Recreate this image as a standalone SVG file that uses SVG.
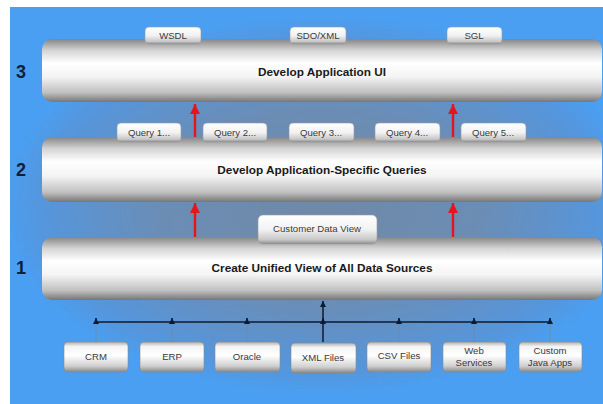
<svg xmlns="http://www.w3.org/2000/svg" width="603" height="404" viewBox="0 0 603 404">
<defs>
<clipPath id="bgClip"><rect x="10" y="7" width="593" height="397"/></clipPath>
<radialGradient id="bgGlow" cx="322" cy="205" r="1" gradientUnits="userSpaceOnUse" gradientTransform="translate(322 205) scale(320 190) translate(-322 -205)">
<stop offset="0" stop-color="#7089a6"/>
<stop offset="0.5" stop-color="#6b8db5"/>
<stop offset="0.88" stop-color="#5596dd"/>
<stop offset="1" stop-color="#4a9ff2"/>
</radialGradient>
<linearGradient id="barGrad" x1="0" y1="0" x2="0" y2="1">
<stop offset="0" stop-color="#858585"/>
<stop offset="0.18" stop-color="#d4d4d4"/>
<stop offset="0.38" stop-color="#ffffff"/>
<stop offset="0.6" stop-color="#f4f4f4"/>
<stop offset="0.85" stop-color="#c0c0c0"/>
<stop offset="1" stop-color="#767676"/>
</linearGradient>
<linearGradient id="tabGrad" x1="0" y1="0" x2="0" y2="1">
<stop offset="0" stop-color="#ffffff"/>
<stop offset="0.5" stop-color="#f2f2f2"/>
<stop offset="0.85" stop-color="#c8c8c8"/>
<stop offset="1" stop-color="#8c8c8c"/>
</linearGradient>
<linearGradient id="boxGrad" x1="0" y1="0" x2="0" y2="1">
<stop offset="0" stop-color="#b0b0b0"/>
<stop offset="0.15" stop-color="#f4f4f4"/>
<stop offset="0.45" stop-color="#ffffff"/>
<stop offset="0.8" stop-color="#d0d0d0"/>
<stop offset="1" stop-color="#888888"/>
</linearGradient>
<marker id="redHead" viewBox="0 0 10 10" refX="10" refY="5" markerWidth="10" markerHeight="10" markerUnits="userSpaceOnUse" orient="auto">
<path d="M0,0 L10,5 L0,10 z" fill="#e8141c"/>
</marker>
<marker id="blkHead" viewBox="0 0 10 10" refX="10" refY="5" markerWidth="6" markerHeight="6" markerUnits="userSpaceOnUse" orient="auto">
<path d="M0,0 L10,5 L0,10 z" fill="#0e1a2e"/>
</marker>
</defs>
<style>
.bar{fill:url(#barGrad);}
.tab{fill:url(#tabGrad);stroke:#9a9a9a;stroke-width:0.6;}
.box{fill:url(#boxGrad);stroke:#8a8a8a;stroke-width:0.6;}
.barTxt{font-family:"Liberation Sans",Arial,sans-serif;font-size:11.8px;font-weight:bold;fill:#1a1a1a;text-anchor:middle;}
.tabTxt{font-family:"Liberation Sans",Arial,sans-serif;font-size:9.6px;fill:#3a3a3a;text-anchor:middle;}
.num{font-family:"Liberation Sans",Arial,sans-serif;font-size:18px;font-weight:bold;fill:#0f1f38;text-anchor:middle;}
.red{stroke:#e8141c;stroke-width:2.4;fill:none;}
.thin{stroke:#6f8aa6;stroke-width:0.8;fill:none;}
.dark{stroke:#0e1a2e;stroke-width:1.5;fill:none;}
</style>
<rect x="0" y="0" width="603" height="404" fill="#ffffff"/>
<rect x="10" y="7" width="593" height="397" fill="#4a9ff2"/>
<ellipse cx="322" cy="205" rx="320" ry="190" fill="url(#bgGlow)" clip-path="url(#bgClip)"/>

<g id="connectors">
<line class="red" x1="195" y1="140" x2="195" y2="104" marker-end="url(#redHead)"/>
<line class="red" x1="453" y1="140" x2="453" y2="104" marker-end="url(#redHead)"/>
<line class="red" x1="195" y1="238" x2="195" y2="203" marker-end="url(#redHead)"/>
<line class="red" x1="453" y1="238" x2="453" y2="203" marker-end="url(#redHead)"/>
<line class="dark" x1="96" y1="322" x2="551" y2="322"/>
<line class="dark" x1="323" y1="342" x2="323" y2="301" marker-end="url(#blkHead)"/>
<line class="thin" x1="96" y1="342" x2="96" y2="324"/>
<line class="thin" x1="172" y1="342" x2="172" y2="324"/>
<line class="thin" x1="247" y1="342" x2="247" y2="324"/>
<line class="thin" x1="399" y1="342" x2="399" y2="324"/>
<line class="thin" x1="474" y1="342" x2="474" y2="324"/>
<line class="thin" x1="550" y1="342" x2="550" y2="324"/>
<line class="dark" x1="96" y1="324" x2="96" y2="318" marker-end="url(#blkHead)" stroke-width="0.8"/>
<line class="dark" x1="172" y1="324" x2="172" y2="318" marker-end="url(#blkHead)" stroke-width="0.8"/>
<line class="dark" x1="247" y1="324" x2="247" y2="318" marker-end="url(#blkHead)" stroke-width="0.8"/>
<line class="dark" x1="323" y1="324" x2="323" y2="318" marker-end="url(#blkHead)" stroke-width="0.8"/>
<line class="dark" x1="399" y1="324" x2="399" y2="318" marker-end="url(#blkHead)" stroke-width="0.8"/>
<line class="dark" x1="474" y1="324" x2="474" y2="318" marker-end="url(#blkHead)" stroke-width="0.8"/>
<line class="dark" x1="550" y1="324" x2="550" y2="318" marker-end="url(#blkHead)" stroke-width="0.8"/>
</g>

<g id="labels">
<text class="num" x="21" y="78">3</text>
<text class="num" x="21" y="176">2</text>
<text class="num" x="21" y="274">1</text>
</g>

<g id="layer3">
<rect class="bar" x="42" y="39" width="560" height="63" rx="10"/>
<text class="barTxt" x="322" y="76">Develop Application UI</text>
</g>
<g id="tab-wsdl"><rect class="tab" x="145" y="27" width="56" height="17" rx="4"/><text class="tabTxt" x="173" y="39">WSDL</text></g>
<g id="tab-sdoxml"><rect class="tab" x="290" y="27" width="56" height="17" rx="4"/><text class="tabTxt" x="318" y="39">SDO/XML</text></g>
<g id="tab-sgl"><rect class="tab" x="447" y="27" width="55" height="17" rx="4"/><text class="tabTxt" x="474" y="39">SGL</text></g>

<g id="layer2">
<rect class="bar" x="42" y="137" width="560" height="65" rx="10"/>
<text class="barTxt" x="322" y="174">Develop Application-Specific Queries</text>
</g>
<g id="tab-q1"><rect class="tab" x="117" y="123" width="64" height="19" rx="4"/><text class="tabTxt" x="149" y="136">Query 1...</text></g>
<g id="tab-q2"><rect class="tab" x="203" y="123" width="64" height="19" rx="4"/><text class="tabTxt" x="235" y="136">Query 2...</text></g>
<g id="tab-q3"><rect class="tab" x="289" y="123" width="65" height="19" rx="4"/><text class="tabTxt" x="321" y="136">Query 3...</text></g>
<g id="tab-q4"><rect class="tab" x="375" y="123" width="65" height="19" rx="4"/><text class="tabTxt" x="407" y="136">Query 4...</text></g>
<g id="tab-q5"><rect class="tab" x="461" y="123" width="65" height="19" rx="4"/><text class="tabTxt" x="493" y="136">Query 5...</text></g>

<g id="layer1">
<rect class="bar" x="42" y="237" width="560" height="63" rx="10"/>
<text class="barTxt" x="322" y="272">Create Unified View of All Data Sources</text>
</g>
<g id="tab-cdv"><rect class="tab" x="258" y="215" width="119" height="29" rx="5"/><text class="tabTxt" x="317" y="232">Customer Data View</text></g>

<g id="src-crm"><rect class="box" x="64" y="342" width="64" height="30" rx="4"/><text class="tabTxt" x="96" y="360">CRM</text></g>
<g id="src-erp"><rect class="box" x="140" y="342" width="64" height="30" rx="4"/><text class="tabTxt" x="172" y="360">ERP</text></g>
<g id="src-oracle"><rect class="box" x="215" y="342" width="65" height="30" rx="4"/><text class="tabTxt" x="247" y="360">Oracle</text></g>
<g id="src-xml"><rect class="box" x="291" y="343" width="65" height="30" rx="4"/><text class="tabTxt" x="323" y="361">XML Files</text></g>
<g id="src-csv"><rect class="box" x="367" y="342" width="64" height="30" rx="4"/><text class="tabTxt" x="399" y="359">CSV Files</text></g>
<g id="src-web"><rect class="box" x="443" y="342" width="63" height="30" rx="4"/><text class="tabTxt" x="474" y="354">Web</text><text class="tabTxt" x="474" y="366">Services</text></g>
<g id="src-java"><rect class="box" x="519" y="342" width="63" height="30" rx="4"/><text class="tabTxt" x="550" y="354">Custom</text><text class="tabTxt" x="550" y="366">Java Apps</text></g>
</svg>
